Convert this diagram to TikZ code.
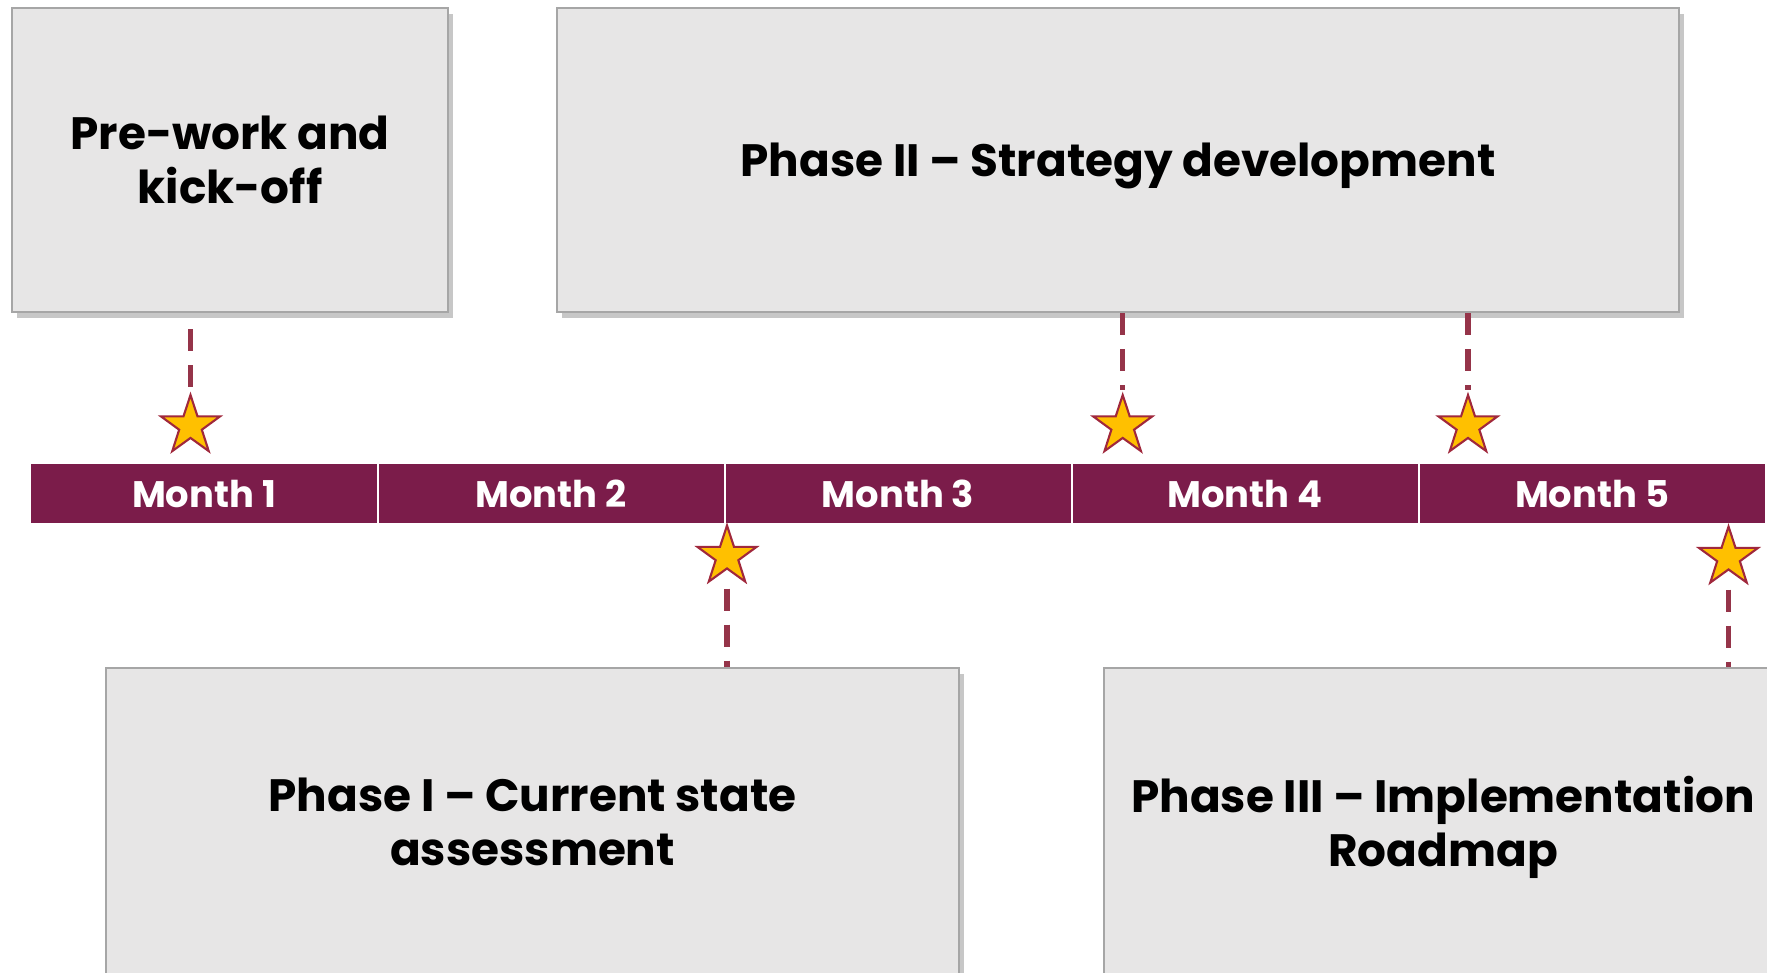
\documentclass[tikz,border=0pt]{standalone}
\usepackage{fontspec}
\setmainfont{Poppins}
\usetikzlibrary{shapes.geometric,shadows}
\definecolor{barred}{RGB}{123,28,74}
\definecolor{dashred}{RGB}{149,52,73}
\definecolor{gold}{RGB}{255,192,0}
\definecolor{staredge}{RGB}{160,40,60}
\definecolor{boxfill}{RGB}{231,230,230}
\definecolor{boxedge}{RGB}{166,166,166}

\begin{document}
\begin{tikzpicture}[
    phasebox/.style={draw=boxedge, line width=0.6pt, fill=boxfill, align=center, inner sep=0pt,
      font=\fontsize{12.9}{15.3}\selectfont\bfseries,
      drop shadow={shadow xshift=0.05cm, shadow yshift=-0.06cm, fill=black!55, opacity=0.4}},
    monthbox/.style={fill=barred, text=white, minimum width=3.45cm, minimum height=0.59cm,
      inner sep=0pt, font=\fontsize{10.5}{12}\selectfont\bfseries},
    milestar/.style={star, star points=5, star point ratio=2.6, fill=gold, draw=staredge,
      line width=0.6pt, minimum size=0.62cm, inner sep=0pt},
    milestone/.style={draw=dashred, line width=1.5pt, dash pattern=on 0.22cm off 0.14cm}
  ]
        \useasboundingbox (0,0) rectangle (17.67,-9.72);
        \clip (0,0) rectangle (17.67,-9.72);

        \node[phasebox, minimum width=4.36cm, minimum height=3.04cm] (pre) at (2.30,-1.60) {Pre-work and\\kick-off};
        \node[phasebox, minimum width=11.22cm, minimum height=3.04cm, text depth=0pt] (ph2) at (11.18,-1.60) {Phase II – Strategy development};
        \node[phasebox, minimum width=8.53cm, minimum height=3.07cm] (ph1) at (5.325,-8.215) {Phase I – Current state\\assessment};
        \node[phasebox, minimum width=6.78cm, minimum height=3.19cm] (ph3) at (14.43,-8.275) {Phase III – Implementation\\Roadmap};

        \node[monthbox] (m1) at (2.04,-4.935) {Month 1};
        \node[monthbox] (m2) at (5.51,-4.935) {Month 2};
        \node[monthbox] (m3) at (8.98,-4.935) {Month 3};
        \node[monthbox] (m4) at (12.45,-4.935) {Month 4};
        \node[monthbox] (m5) at (15.92,-4.935) {Month 5};

        \node[milestar] (s1) at (1.905,-4.26) {};
        \node[milestar] (s2) at (11.227,-4.26) {};
        \node[milestar] (s3) at (14.68,-4.26) {};
        \node[milestar] (s4) at (7.27,-5.565) {};
        \node[milestar] (s5) at (17.285,-5.575) {};

        \draw[milestone, shorten <=0.16cm, shorten >=0.39cm] (pre.south -| s1) -- (s1.center);
        \draw[milestone, shorten >=0.36cm] (ph2.south -| s2) -- (s2.center);
        \draw[milestone, shorten >=0.36cm] (ph2.south -| s3) -- (s3.center);
        \draw[milestone, shorten <=0.32cm] (s4.center) -- (s4 |- ph1.north);
        \draw[milestone, shorten <=0.32cm] (s5.center) -- (s5 |- ph3.north);
      \end{tikzpicture}
\end{document}
